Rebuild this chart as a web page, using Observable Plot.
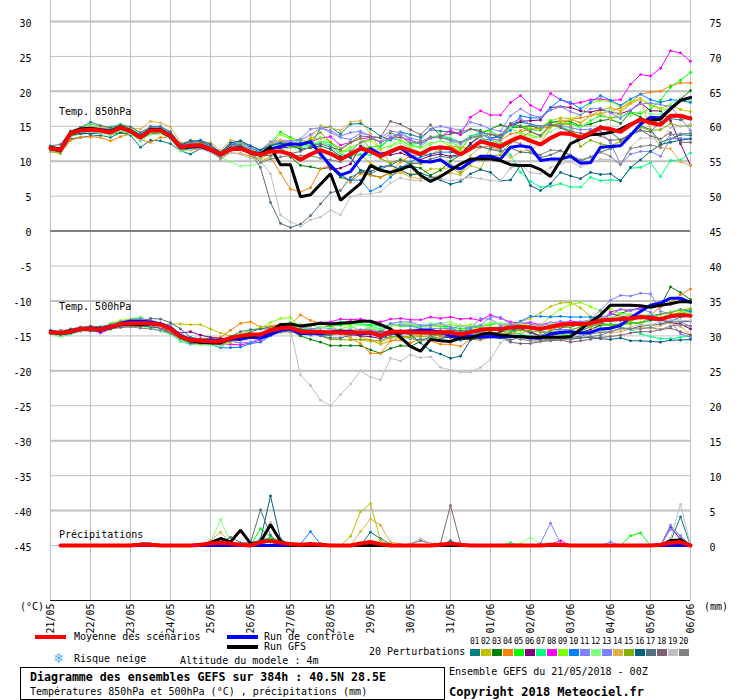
<!DOCTYPE html>
<html><head><meta charset="utf-8">
<script src="https://cdn.jsdelivr.net/npm/d3@7"></script>
<script src="https://cdn.jsdelivr.net/npm/@observablehq/plot@0.6"></script>
<style>
html,body{margin:0;padding:0;background:#fff;width:740px;height:700px;overflow:hidden}
#wrap{position:relative;width:740px;height:700px;font-family:"DejaVu Sans Mono",monospace;font-size:10px;color:#000}
#wrap svg{position:absolute;left:0;top:0;display:block}
.t{position:absolute;white-space:nowrap;line-height:12px;height:12px}
.s{position:absolute}
.b{font-weight:bold}
</style></head><body><div id="wrap"></div>
<script>
const dayLabels = ["21/05","22/05","23/05","24/05","25/05","26/05","27/05","28/05","29/05","30/05","31/05","01/06","02/06","03/06","04/06","05/06","06/06"];
const tempTicks = [30,25,20,15,10,5,0,-5,-10,-15,-20,-25,-30,-35,-40,-45];
const thickTicks = [30,20,10,-10,-20,-30,-40];
const perturbationColors = ["#008080","#c0c000","#008000","#ff8000","#00ff00","#800080","#00ff80","#ff00ff","#80ff00","#0080ff","#8080ff","#80ff80","#8080ff","#e0b040","#80b000","#006080","#507080","#806070","#c0c0c0","#808080"];
const perturbationIds = ["01","02","03","04","05","06","07","08","09","10","11","12","13","14","15","16","17","18","19","20"];

// Temperature at 850 hPa (deg C), one value every 6 h
const t850Mean = [11.9,11.6,14,14.4, 14.5,14.4,14.1,14.8, 14.3,13.4,14.4,14.4, 13.6,12,12.2,12.3, 11.7,11,11.7,11.8, 11.3,10.9,11.4,11.4, 11,10.2,11,11.6, 11.1,10.3,11,11.8, 11.4,10.7,11.4,12, 11.5,11,11.8,12, 11.8,11,11.8,12.8, 12.5,12.1,12.9,13.5, 12.9,12.4,13.3,14, 13.9,13.4,14,14.8, 14.6,14.2,15.2,16, 15.5,15.2,16.5,16.5, 16.1];
const t850Control = [11.8,11.5,13.9,14.5, 14.6,14.4,14.2,14.8, 14.2,13.5,14.5,14.4, 13.5,11.9,12,12.1, 11.6,10.9,11.8,11.9, 11.2,10.9,11.8,12.1, 12.5,12.4,12.8,11, 9.4,8,8.5,10.4, 11.8,11,11.3,11.9, 10.8,10,9.9,10.2, 9.2,8.9,9.9,10.7, 10.7,10.3,12,12.2, 12,10.1,10.3,10.3, 10.7,9.7,9.8,12, 12.1,12.2,13.7,15.3, 16.3,16.2,17.5,18.7, 19.1];
const t850Gfs = [12,11.7,14.1,14.6, 14.7,14.5,14.3,14.9, 14.4,13.5,14.5,14.5, 13.7,12,12.1,12.2, 11.6,11,11.8,11.9, 11.3,11,12,9.5, 9.5,4.9,5.2,6.7, 8.2,4.4,5.6,6.8, 9.4,8.7,8.4,8.8, 9.4,8,7.1,7.8, 8.7,9.6,10.3,10.3, 10.3,10.1,9.5,9.4, 9.4,8.8,7.8,10.1, 12.5,13.2,13.8,13.9, 14.1,14.6,15.3,15.8, 15.8,16,17.5,18.7, 19.1];
const t850P01 = [11.6,11.2,13.2,13.4, 13.6,13.7,13.4,14.1, 13.7,12,13,12.9, 12.5,11.5,11,11.8, 11.5,10.3,11.5,11.9, 11.4,11,12.2,12.8, 12.6,12.4,12.3,14.7, 14.9,13.9,15.3,15.4, 14.6,13.6,13,14.2, 13.8,13.4,14.5,14.3, 14.2,13.8,14.6,14.4, 13.3,13.7,14.9,15.6, 15.3,15,15.2,14.8, 14.1,13.5,14.4,15, 14.2,13,13.8,15.1, 14.5,12.7,13.2,13.8, 13.7];
const t850P02 = [11.5,11.4,13.9,14.3, 14.3,14.2,14.2,14.6, 14.1,13.2,14.2,14.3, 13.5,12,12.3,12.6, 12,10.9,12.4,12.5, 11.6,10.6,11.6,12.3, 12.2,13.1,12.6,11.8, 10.9,10.3,10.7,10.9, 9.7,8.9,8,8.4, 8.2,8.1,8.9,8.9, 9.1,8.2,9.4,8.9, 12,12.6,13,14.4, 15,14.9,15.8,16.2, 16.1,15.4,16.5,17.3, 17.7,17.2,18.3,18.9, 18,17.6,18.1,17.4, 17.1];
const t850P03 = [11.4,11.2,13.6,13.9, 14,14.2,13.8,14.1, 13.9,13.1,14,14, 13.3,11.6,11.7,12, 11.4,10.7,11.6,11.7, 11,10.7,11.8,11.9, 10.6,9.4,9.2,8.9, 9.1,7.7,7.2,8.7, 8,7.7,8.4,9.2, 9.3,9,8,8.7, 10,10.9,12.4,13.9, 14.6,15.2,14.8,14.9, 15.1,14.6,15.5,15.8, 15.7,15,15.3,15.8, 16,15.4,17,16.3, 15.6,16.3,17.5,18.9, 20.1];
const t850P04 = [11.5,11.1,13,13.4, 13.5,13.4,12.9,13.5, 13.9,13.1,12.7,13.4, 13.4,12.3,11.6,11.8, 11.4,10.3,11.2,11.1, 10.7,10,10.6,8.3, 6,5.6,6.2,8.9, 9.4,8.2,7,8.2, 8,7.7,8.4,9.9, 10.8,10.9,11,11.6, 12.2,12,11.8,12, 12.2,13,13.9,14.2, 14.6,14.7,14.9,15.3, 16,16.2,16.5,16.8, 17.2,17.6,18.4,19.6, 19.9,20,20.8,21.2, 21.2];
const t850P05 = [11.7,11.3,14.2,14.7, 15,14.7,14.6,15.1, 14.6,13.8,14.7,14.7, 14,12.4,12.5,12.7, 12,11.2,12.1,12.4, 11.8,11.5,12.6,14.2, 13.4,12.9,12,12.8, 12.7,11.4,11.5,11.8, 12,12.2,13.3,13.7, 12.4,12.6,13.3,13.8, 13,11.6,13.5,14.2, 14.4,13.3,14.8,15.1, 14.5,14.4,15.8,15.2, 15.4,14.9,15.8,16.5, 16.2,16.3,17,16.8, 17.5,18.7,20.6,21.6, 22.7];
const t850P06 = [11.6,11.3,13.8,14.2, 14.2,14.1,14,14.5, 14,13.2,14.1,14.2, 13.5,12,12.4,12.5, 12,11.1,11.9,12, 11.6,11.1,11.8,11.9, 12,12.2,12.7,11, 8.9,9,9.6,12.2, 11.6,10.9,10.9,11.2, 10.6,10.2,10.8,11, 10.7,11,12.6,13.5, 14,13.2,15.2,15.7, 15.8,15.9,17.7,17.8, 17.7,17.2,17,17.4, 17,16.8,17.3,18.4, 17.2,17.2,15.8,12.5, 9.4];
const t850P07 = [11.8,11.5,14.3,14.8, 15.3,15,14.9,15.3, 14.9,14,14.9,15, 14.1,12.4,12.4,12.6, 12,11.1,11.9,12.2, 11.6,11.2,12.2,12.5, 12.3,11.9,12.3,12.7, 12.3,11,10.8,11, 10.9,12,13.2,13, 12.3,12,13.4,13.6, 13.3,12.7,13.6,14, 13.1,12.4,10.9,8.4, 7.1,6.3,6.4,6.8, 6.3,6.3,7.7,7.2, 7.3,7.2,9,9.1, 9.8,7.8,10.1,10.2, 11.2];
const t850P08 = [11.7,11.4,14,14.5, 14.6,14.4,14.3,14.7, 14.3,13.4,14.3,14.3, 13.6,11.9,12.1,12.3, 11.9,10.9,11.6,11.8, 11.3,11.1,11.9,12.1, 12.5,12.6,12.8,13.3, 13.5,12.3,12.7,13.2, 13.4,12.7,13.3,13.4, 13,12.5,13.3,13.5, 14.4,13.8,16.3,17.2, 16.6,16.6,18.4,19.4, 18,17.3,19.7,18.8, 18.2,18.4,18.8,18.9, 18.7,18.8,21,22.4, 22.2,23.3,25.8,25.5, 24.3];
const t850P09 = [11.6,11.1,14,14.6, 14.8,14.6,14.4,15, 14.4,13.6,14.6,14.6, 13.9,12.2,12.2,12.3, 11.8,10.8,11.6,11.7, 11.2,10.9,12.4,13.8, 13.2,12.6,13,13.4, 12.8,11.3,12,12.6, 13,11.8,12.2,13, 12.2,11.9,12.6,12.9, 12.1,11.6,13.4,13.5, 12.6,13.1,14.7,14, 13.7,13.4,15,14.9, 16,16.6,18.3,18.7, 18.5,17.9,18.6,18.9, 18.2,17.4,17.5,18.7, 18.5];
const t850P10 = [11.6,11.4,13.7,14.1, 14.2,14.2,13.9,14.4, 14,13.1,14.9,14.9, 14.2,12.4,12.6,12.9, 12.1,11.4,12.4,12.7, 12,11.2,12.4,12.5, 12.4,12.6,12.9,11.4, 9.4,8,7.3,7.3, 5.7,6.4,7.7,9, 9.9,10.6,11,11.3, 11.3,11,12,13, 13.1,13.7,14.4,16.5, 16.2,16.2,17.7,18.8, 18.4,17.5,18.4,19.4, 18.7,18,18.9,19.6, 18.8,18.4,18.8,18.7, 18.4];
const t850P11 = [11.8,11.6,14.2,14.6, 14.9,14.7,14.6,15, 14.5,13.8,15,15, 14.1,12.4,12.5,12.7, 12,11.2,12.7,12.9, 12.2,11.6,12.8,13, 12.9,13,13.8,14.7, 14.4,13.6,14.1,14.3, 13.6,13.3,14.3,14.1, 13.3,13,14.6,15, 14.7,14.4,15.6,15.2, 14.6,14.3,16.5,17.5, 16.6,16.3,17.3,17.8, 17.1,16.6,17.5,17.6, 16.9,16.1,17.3,18.2, 18.3,18.1,17.8,16.2, 14.4];
const t850P12 = [11.5,11.1,13.5,14, 14.1,14,13.7,14.4, 13.9,12.8,13.8,13.9, 13.2,11.4,11.7,11.9, 11.4,10.6,9.9,9.3, 9.4,9.7,10.5,11.5, 12,11.5,12.6,12.8, 11.9,11,11.8,12.6, 11.3,10.8,12.1,12.6, 11.9,11.3,12.4,12.9, 12.6,12.2,13.2,13.6, 14,13.8,14.8,13.9, 13.3,13.5,14.2,15, 14.5,14.9,15.6,16.9, 17.3,16.5,16.5,17.1, 16.8,16.7,18.2,18.9, 18.8];
const t850P13 = [11.7,11.4,14,14.5, 14.6,14.6,14.3,14.8, 14.3,13.6,14.6,14.7, 13.9,12.3,12.6,12.8, 12.1,11.2,12.2,12.3, 11.9,11.5,12.5,12.7, 12.8,13.2,14.6,14.8, 14.1,13.4,13.1,14, 13.7,12.6,13.5,13.9, 13.1,12.4,13.3,13.5, 12.9,12.5,13.3,13.9, 13.2,13,15.4,16.1, 15.2,14.9,15.3,15.1, 14.8,14.5,14.6,14.3, 12.6,9.6,11,11.4, 11.4,10.7,13.2,13.3, 13.2];
const t850P14 = [11.4,11.1,14.3,14.9, 15,14.9,14.8,15.2, 14.8,14.6,15.7,15.5, 14.9,12.7,12.5,12.7, 12.7,11.5,13,12.7, 11.5,11,12.5,13, 12.6,12.4,13.4,15.1, 14.8,14.4,15.6,15.8, 13.9,11.6,9.7,8.4, 7.7,7.5,7.7,8, 8.3,8,10.8,12, 11.8,11.6,10.5,11.4, 11.6,12.5,14.8,15.8, 15.9,15.6,16.5,16.9, 16,16.9,18.2,18.9, 14.4,11.9,11.8,9.9, 9.4];
const t850P15 = [11.6,11.2,13.8,14.3, 14.4,14.3,14.1,14.7, 14.2,13.3,14.3,14.3, 13.6,11.8,12,12.2, 11.7,10.6,11.5,11.6, 11.1,10.2,11.5,12.5, 12.1,12,13.1,14.1, 12.7,11.8,12.6,13.3, 11.8,10.4,9.7,10.3, 9.8,9.6,10,10.1, 9.5,8.4,9.9,10.7, 10.8,10.9,12.6,13.3, 14.2,13.6,15.1,15.4, 15.2,12.1,13,12.5, 12.2,12.8,13.7,14.9, 14.4,14.5,15.4,15, 15.1];
const t850P16 = [11.9,11.6,13.7,14, 13.9,14.1,14.1,14.6, 14.1,13.3,14.5,14.6, 13.8,12.3,12.8,13, 12.4,11.2,12.6,12.9, 12.2,11.6,12.2,12.6, 12.3,11.7,11.9,12.2, 11.7,10.7,10.5,8.7, 8.5,9.2,9.4,8.8, 8,8.3,7.8,7.3, 6.7,7.1,8.2,8.8, 8.4,7.2,7.3,9.4, 6.5,5.8,6.8,8.4, 7.9,7.5,8.4,8.1, 8.2,7.2,9.1,10.2, 11.4,12.4,12.7,13, 13.2];
const t850P17 = [12.2,12.4,14.3,14.8, 15.6,15.1,14.8,15.2, 14.9,14.1,14.9,14.9, 14.2,12.4,13,12.8, 12.2,11.1,12.4,12.3, 11.2,9.1,4.1,1.1, 0.5,1,2.2,3.9, 5.5,5.8,7.7,8.4, 8.2,8.9,9.4,10.2, 9.6,9.8,10.3,10.7, 10.5,10.9,11.8,12.1, 11.7,11.4,11.9,11.3, 11.2,10.5,10.9,11.5, 10.8,10,10.6,11.3, 11.8,12.3,13.7,14.4, 14.2,15.6,16.1,15.9, 16.3];
const t850P18 = [11.6,11.5,13.9,14.3, 14.7,14.3,14.1,14.7, 14.2,13.2,14.2,14.2, 13.3,11.9,12.5,12.3, 11.6,10.8,12,12.2, 11.5,10.8,10.8,11.4, 11.1,11.4,12.1,12.5, 12,11.6,12.7,13.6, 13.5,13.4,15.7,15.3, 14.5,13.8,15.2,13.6, 13.9,14.2,14.6,14.2, 13.8,13.7,15.4,15, 14.2,13.7,15.2,14.9, 14.3,14,13.8,13.6, 13,13.1,13.9,14.5, 13.6,13.2,14.1,12.7, 12.7];
const t850P19 = [11.8,11.5,13.8,14.2, 14.2,14.1,13.9,14.5, 14,13.2,14.1,14.2, 13.5,11.7,11.9,11.9, 11.2,10.4,11.2,11, 10.4,10.1,8.2,2.3, 1.3,0.7,1.6,2, 3,2.3,4.9,5.3, 5.3,5.6,6.9,7.6, 7.3,7.2,7.4,7.5, 7.2,7.4,7.7,7.5, 7.2,7.2,9,9.5, 8.4,8.2,9.1,9.6, 9.9,9.2,9.7,10.3, 10.2,9.6,12,13.3, 13.3,12.9,14.8,15, 15.3];
const t850P20 = [11.7,11.4,13.9,14.4, 14.5,14.4,14.2,14.8, 14.4,13.4,14.4,14.4, 13.7,11.9,12.6,12.5, 11.6,10.5,11.8,12, 11.2,9.8,10.3,10.6, 10.8,10.8,10.8,10.4, 10.2,9.9,11.4,12.7, 13.2,12.8,14,13.6, 12.6,12.8,13.5,13.3, 13.1,12.7,13.4,13.6, 12,11.8,12.9,12.5, 11.2,10.9,11.6,11.5, 10.9,10.2,10.6,11.3, 10.7,9.5,11.8,12.1, 12.3,12,13.8,13.9, 14];

// Temperature at 500 hPa (deg C)
const t500Mean = [-14.5,-14.6,-14.4,-14, -14,-14.1,-13.7,-13.3, -13.2,-13.2,-13.2,-13.4, -14,-15.1,-15.6,-15.7, -15.8,-15.8,-15.3,-15, -14.8,-14.8,-14.2,-13.9, -13.8,-14.4,-14.4,-14.4, -14.5,-14.5,-14.5,-14.5, -14.5,-15,-14.4,-14.4, -14.5,-14.5,-14.5,-14.5, -14.5,-14.8,-14.5,-14.1, -14,-14,-13.8,-13.7, -13.8,-14,-13.7,-13.4, -13.3,-13.3,-13.2,-12.8, -12.7,-12.6,-12.5,-12.3, -12.4,-12.6,-12.2,-12, -12.1];
const t500Control = [-14.4,-14.7,-14.5,-14.1, -13.9,-14.2,-13.8,-13.2, -12.9,-12.9,-13,-13.3, -14,-15,-15.5,-15.8, -15.6,-15.7,-15.4,-15.5, -15.2,-15.3,-14.8,-14.2, -14,-14.7,-14.6,-14.7, -14.5,-14.3,-14.4,-14.7, -14.6,-15,-14.5,-14.6, -14.4,-14.2,-14.2,-14.5, -15,-15,-15,-15.2, -15.1,-15.2,-15.1,-15.1, -15.3,-15.3,-14.7,-14.5, -14.4,-14.6,-14.5,-14, -13.9,-13.5,-12.4,-11.5, -10.6,-10.3,-9.6,-9.6, -10.2];
const t500Gfs = [-14.4,-14.6,-14.3,-14, -13.9,-14,-13.7,-13.4, -13.3,-13.4,-13.3,-13.3, -13.9,-15,-15.7,-15.9, -16,-16,-15.4,-15.1, -15,-14.8,-14.3,-13.4, -13.3,-13.6,-13.4,-13.2, -13.3,-13.2,-13.1,-12.9, -12.9,-13.4,-14,-15.2, -16.5,-17.2,-15.5,-15.7, -15.8,-15.3,-15.3,-14.8, -14.6,-14.9,-15,-15.1, -15.2,-15.2,-15.2,-15.2, -15.1,-14.1,-13,-12, -10.6,-10.6,-10.6,-10.7, -10.9,-10.6,-10.4,-10.1, -10.1];
const t500P01 = [-14.3,-14.8,-14.5,-14.2, -13.9,-14.2,-13.9,-13.6, -13.5,-13.6,-13.5,-13.7, -14.1,-15,-15.9,-15.9, -16,-16,-15.6,-14.9, -14.4,-14,-13.7,-13.4, -13.2,-14.3,-14.7,-14.9, -14.9,-14.5,-14.1,-14.6, -14.3,-14.7,-14.2,-14.6, -14.2,-14.2,-14.2,-14.5, -14.4,-15.4,-15,-14.4, -14.1,-13.7,-14.3,-14.1, -14.6,-15,-14.2,-14, -14.5,-14.3,-13.7,-13.2, -13.4,-13.3,-13.1,-13.2, -12.7,-12.7,-12.9,-12.3, -12.2];
const t500P02 = [-14.4,-14.5,-14.2,-13.9, -13.9,-14,-13.5,-13.1, -13,-13,-13.1,-13.4, -13.3,-13.3,-13.4,-13.4, -14,-14.6,-15,-14.8, -14.7,-14.6,-13.9,-13.4, -13.6,-14.2,-14.5,-14.7, -14.6,-14.3,-14.5,-15.1, -15.6,-16.2,-15.7,-15.3, -15,-14.9,-14.5,-14.3, -14,-13.5,-13.6,-13.8, -14.2,-14,-13.3,-13, -12.5,-11.7,-10.8,-10.3, -10.2,-11,-12.2,-12.8, -12.6,-12.7,-12.9,-12.4, -12.5,-12.9,-11.8,-11.9, -11.7];
const t500P03 = [-14.6,-14.8,-14.6,-14.3, -14.2,-14.3,-14,-13.7, -13.6,-13.5,-13.6,-13.7, -14.4,-15.5,-16,-15.9, -15.8,-16,-15.6,-15.1, -15,-15,-14.4,-14.1, -14.2,-15,-15.5,-15.9, -16.4,-16.4,-16.4,-16.4, -17,-17.5,-16.8,-16.4, -16.5,-15.8,-15.1,-15.3, -15.2,-15.3,-15.2,-15.1, -14.8,-14.4,-14.2,-13.9, -13.8,-14,-13.6,-13.8, -13.7,-13.4,-12.7,-12.4, -12.6,-11.8,-11.3,-11, -10.8,-10.7,-8,-8.8, -9.8];
const t500P04 = [-14.3,-14.6,-14.4,-14.2, -14,-14.1,-13.7,-13.4, -13.2,-13.4,-13.4,-13.8, -14.3,-15.2,-15.5,-15.4, -15.3,-15.2,-14.2,-13.2, -13,-13.7,-13.6,-13.3, -13.4,-12,-12.8,-13.2, -13.6,-14.4,-15.3,-16.1, -17.5,-17.5,-15.7,-15.6, -16,-15.4,-15.7,-16.2, -16.2,-16.5,-15.5,-15.6, -15.2,-14.9,-14.6,-14.7, -14.1,-13.8,-14.1,-13.7, -13.4,-13.6,-13.4,-13.1, -12.7,-12.4,-12,-12.5, -12,-10.9,-10.2,-9.1, -8.3];
const t500P05 = [-14.5,-14.9,-14.6,-14.2, -14,-14.1,-13.4,-12.9, -12.6,-12.4,-12.9,-13.2, -13.7,-15,-15.7,-15.9, -16,-16.3,-15.8,-15.4, -15.1,-15,-14.4,-13.5, -13.1,-13.4,-14.2,-13.8, -13.6,-13.5,-13.3,-13.3, -13.4,-13.6,-13.4,-13.6, -13.6,-13.7,-13.5,-13.6, -13.7,-14,-13.9,-13.7, -13.4,-13.2,-13.4,-13.4, -13.8,-14.4,-14.6,-14.8, -14.7,-14.6,-14.1,-13.6, -13.3,-13.5,-13.1,-13.1, -12.8,-12.5,-12,-11.8, -11.4];
const t500P06 = [-14.6,-14.5,-14.3,-14, -14,-14.2,-13.8,-13.4, -13.1,-13.2,-13.2,-13.4, -14,-14.6,-14.4,-14.9, -15.2,-15.4,-15.3,-15.3, -15.2,-15.3,-14.7,-14.2, -14,-14.6,-14.4,-14.3, -14.6,-14.7,-14.8,-15, -15.1,-15.4,-14.8,-14.7, -14.7,-14.5,-14.6,-15, -15.2,-15.6,-15.2,-15.1, -14.7,-14.4,-13.7,-14, -14.4,-15,-15,-14.6, -14.4,-14.5,-14.1,-13.4, -11.8,-12.2,-12.4,-12.3, -12.7,-12.8,-13.1,-13.3, -14];
const t500P07 = [-14.7,-15.1,-14.8,-14.3, -14.1,-14.2,-13.9,-13.5, -13.4,-13.6,-13.8,-14.3, -14.7,-15.8,-16.2,-16.2, -16.3,-16.6,-15.8,-15.2, -15,-15.1,-14.6,-14, -13.8,-14.2,-13.6,-13.2, -13.2,-13,-13.2,-13.3, -13.6,-14,-13.3,-13.5, -13.6,-13.5,-13.4,-13.6, -14,-14.3,-14.1,-14, -13.8,-13.7,-14.3,-14.8, -15,-15.2,-14.7,-14.7, -14.3,-14.4,-14.4,-14.3, -13.9,-13.7,-14.1,-14.7, -15.1,-15.4,-15.4,-15.2, -15];
const t500P08 = [-14.4,-14.6,-14.4,-14, -14,-14.6,-14,-13.6, -13.3,-13.4,-13.5,-13.7, -14.2,-15.4,-16.1,-16.2, -16.1,-16.2,-16.2,-16.3, -16,-15.6,-14.9,-14.4, -14.2,-13.9,-13.5,-13.1, -13,-12.6,-12.7,-12.6, -12.9,-13,-12.6,-12.5, -12.7,-12.7,-12.3,-12.5, -12.3,-12.6,-12.5,-12.8, -12,-12.5,-13,-13.2, -13.1,-13.4,-13.1,-13.2, -12.9,-13,-13.2,-13, -11.6,-11.2,-11.4,-11, -10.7,-10.6,-10.5,-10, -10.2];
const t500P09 = [-14.5,-14.8,-14.3,-13.8, -13.7,-13.9,-13.2,-12.8, -12.6,-12.9,-13,-13.3, -14.1,-15.3,-15.9,-15.8, -15.8,-15.9,-15.1,-14.7, -14.2,-13.9,-13.1,-12.5, -12.4,-13.9,-14.3,-14.5, -14.1,-14,-13.6,-14.2, -13.8,-14.3,-13.6,-13.4, -13.4,-13.5,-13.6,-13.6, -13.4,-13.7,-13.4,-13.6, -13.1,-13.2,-13.5,-13.2, -13.6,-13.5,-12.2,-11.2, -10.5,-10.2,-10.8,-11.5, -11.2,-11.8,-11.9,-12.1, -12.2,-12.4,-12,-11.6, -11.2];
const t500P10 = [-14.3,-14.6,-14.3,-13.9, -13.8,-13.7,-13.4,-13.1, -13,-13.1,-13.3,-13.5, -14.2,-15.2,-15.8,-16, -16.2,-16.7,-16.7,-16.6, -16.1,-15.9,-15,-14.3, -14,-14.7,-14.9,-14.6, -14.6,-14.4,-14.3,-14.8, -14.5,-15.2,-15.3,-15, -15.4,-15.6,-15.2,-15.6, -14.6,-15.6,-15.4,-15.4, -14.7,-15,-14.5,-12.9, -12.2,-12.2,-12.3,-12.2, -12.3,-12.3,-12.3,-12.4, -12.9,-12.8,-12.5,-12.3, -12.1,-11.9,-11.6,-11.2, -11.5];
const t500P11 = [-14.5,-14.4,-14.1,-13.8, -13.7,-14,-13.6,-13, -12.7,-12.7,-12.9,-13.1, -13.5,-14.7,-15.3,-15.6, -15.7,-15.8,-15.8,-16, -15.9,-15.4,-14.9,-14.2, -14,-14.2,-14,-13.8, -14,-14.2,-14.2,-14.1, -14.1,-14.4,-13.3,-13.4, -13.6,-13.9,-13.9,-14, -13.9,-13.6,-13.9,-12.5, -12.6,-13.5,-13.4,-13.1, -13.3,-13.6,-13.2,-12.9, -13.1,-13,-12.7,-11.3, -9.9,-9.2,-9.3,-8.9, -9,-11.5,-11.8,-13, -13.6];
const t500P12 = [-14.6,-15,-14.8,-14.2, -14.1,-14.2,-14.1,-13.7, -13.6,-13.7,-13.8,-14.3, -14.8,-15.6,-16.1,-16.3, -16.3,-16.5,-15.9,-15.4, -15,-15.3,-14.8,-14.2, -13.8,-13.7,-13.5,-13.7, -14.2,-14.5,-13.8,-13.4, -14,-14.1,-13.6,-13.2, -13.2,-13.7,-13.2,-13.2, -13,-13.6,-13.6,-13.4, -13.2,-13.2,-13.3,-13.3, -14,-14.4,-13.2,-13.4, -13.2,-13.2,-12.8,-12.5, -12.4,-12.1,-11.9,-12.1, -11.8,-12.5,-11.5,-11.3, -11.9];
const t500P13 = [-14.3,-14.5,-14.1,-13.7, -13.9,-14,-13.5,-13, -12.9,-12.6,-12.7,-13.2, -13.6,-14.7,-15.6,-15.6, -15.9,-15.9,-15.4,-15.6, -15.1,-14.6,-14.1,-13.9, -13.9,-14.2,-14.4,-14.4, -14.3,-14.3,-14.2,-14.4, -14.2,-14.7,-13.2,-13, -13,-13.5,-13.5,-13.2, -13.7,-14.5,-13.8,-13.5, -12.3,-12.3,-13.3,-13.6, -14,-14.3,-14.7,-14.1, -14.1,-13.8,-13.3,-12.3, -12,-11.2,-11.3,-11.2, -11.6,-13.3,-12.9,-14.7, -15.2];
const t500P14 = [-14.6,-14.7,-14.5,-14.1, -14.1,-14.1,-13.7,-13.5, -13.4,-13.4,-13.4,-13.6, -14.3,-15.1,-15.4,-15.8, -16,-16.1,-15.9,-15.6, -15.3,-15,-14.4,-14.2, -14.4,-14.4,-14.4,-14.4, -14.5,-14.7,-15.4,-15.6, -15.8,-15.9,-15.3,-15.2, -15.3,-15.8,-15.4,-15.2, -14.7,-14.9,-15.3,-15.3, -14.5,-14.9,-13.9,-13.6, -13.9,-13.7,-13.7,-13.6, -13.6,-13.2,-13.8,-14.3, -14.6,-14.4,-14,-13.8, -13.9,-13.5,-13.1,-13.7, -14.8];
const t500P15 = [-14.5,-14.7,-14.5,-14, -14,-14,-13.6,-13.2, -13.2,-13.2,-13.3,-13.6, -14.1,-15.3,-16,-16, -16,-16,-15.6,-15.4, -15.2,-15,-14.5,-14.1, -14,-14.5,-14.6,-15, -15.5,-15.5,-15.6,-15.5, -15.6,-15.7,-15.1,-15, -15.2,-15.1,-15,-14.9, -14.4,-14.5,-14.2,-14.1, -14.4,-14.7,-14.5,-14.2, -14.3,-14.5,-14.4,-14.5, -14.2,-13.7,-13.6,-13.3, -13.6,-13.3,-13.3,-13.1, -12.4,-11.9,-11.7,-11.3, -11.1];
const t500P16 = [-14.6,-14.8,-14.6,-14.2, -14.3,-14.4,-14,-13.6, -13.5,-13.5,-13.7,-13.9, -14.6,-15.4,-16,-16, -15.8,-15.8,-15.2,-15, -14.9,-15,-14.7,-14, -13.9,-14.7,-14.7,-14.7, -14.6,-14.5,-14.5,-14.6, -14.6,-14.9,-14.6,-14.5, -14.8,-16,-17.1,-17.6, -18.2,-17.9,-15.6,-15.2, -15,-14.9,-15.1,-15.2, -15.2,-15.4,-15.2,-15.3, -15.5,-15.3,-15.2,-15.4, -15.5,-15.3,-15.7,-15.7, -15.8,-15.9,-15.6,-15.6, -15.5];
const t500P17 = [-14.2,-14.4,-14,-13.8, -13.6,-13.7,-13.5,-13.2, -13.1,-13,-12.5,-12.6, -13.1,-14,-15.2,-15.4, -15.4,-15.7,-15.1,-14.4, -14.1,-14,-14,-13.8, -13.7,-14,-14.3,-15, -15.3,-15.3,-14.9,-14.7, -14.6,-14.4,-14.5,-14.4, -14.7,-14.6,-14.8,-14.7, -14.6,-14.6,-14.6,-14.4, -14.6,-15.2,-15.6,-15.2, -15.3,-15.6,-15.5,-15.4, -15.3,-15,-14.7,-14.5, -14.4,-14,-14,-13.6, -13.5,-13.3,-13,-13, -12.9];
const t500P18 = [-14.5,-14.2,-14.2,-13.9, -13.6,-14.2,-14,-13.8, -13.7,-13.6,-13.6,-13.8, -14.5,-15.3,-15.9,-15.9, -16,-16,-15.7,-15.4, -15.1,-15.1,-14.8,-14.4, -14.2,-14.6,-14.5,-14.5, -14.6,-14.7,-14.6,-14.5, -14.5,-14.4,-14.3,-14.2, -14.1,-14,-14.2,-14.3, -14.2,-14.3,-14.2,-14.3, -14.7,-15.2,-15.9,-16.1, -16.1,-15.8,-15.7,-15.6, -15.9,-15.7,-15.5,-15.2, -15.1,-14.9,-14.6,-14.4, -14.4,-14.1,-13.9,-14.4, -14.9];
const t500P19 = [-14.5,-14.7,-14.4,-14, -14,-14.2,-13.8,-13.5, -13.5,-13.4,-13.5,-13.7, -14.2,-15.2,-15.7,-15.8, -15.9,-16,-15.5,-15, -14.8,-14.6,-14.4,-14.1, -14.1,-20.6,-22.1,-24.2, -25,-23.4,-21.9,-20, -20.9,-21.3,-18.2,-18.6, -17.7,-18.1,-18,-19.5, -19.9,-20.2,-20.2,-19.5, -18.4,-16,-14.9,-15.1, -15,-15.1,-15.1,-15, -14.9,-14.9,-14.6,-14.3, -14.3,-14.1,-13.7,-13.4, -13.4,-13,-12.7,-12.8, -12.8];
const t500P20 = [-14.5,-14.3,-14.3,-14, -14,-14,-13.8,-13.6, -13.7,-13.9,-14,-14.2, -14.6,-15.4,-15.9,-15.9, -15.9,-15.8,-15.4,-15.1, -15.1,-15,-14.9,-14.5, -14.4,-14.7,-14.8,-14.9, -14.8,-14.5,-14.6,-14.5, -14.6,-14.7,-14.6,-14.7, -14.4,-14.4,-14.5,-14.6, -14.4,-14.7,-14.3,-14.5, -15.2,-15.3,-15.2,-15.5, -15.7,-15.8,-15.5,-15.6, -15.4,-15.2,-15.1,-14.9, -14.4,-13.9,-14,-14, -13.8,-14.1,-13.6,-13.4, -13.6];

// Precipitation (mm): only the non-zero 6 h steps, as [step, mm]
const rainMean = [[9,.1],[10,.1],[15,.1],[16,.3],[17,.4],[18,.3],[19,.1],[21,.5],[22,.7],[23,.4],[24,.2],[25,.1],[26,.2],[27,.1],[31,.3],[32,.5],[33,.2],[39,.1],[40,.3],[41,.1],[50,.1],[51,.1],[61,.1],[62,.4],[63,.5]];
const rainControl = [];
const rainGfs = [[9,.2],[10,.2],[16,.4],[17,1],[18,.5],[19,2.2],[20,.3],[21,.5],[22,3],[23,.6],[62,.7],[63,.8]];
const rainP01 = [[21,.6],[22,1.2],[23,.3],[32,1.9],[33,1],[34,.2],[40,.7],[62,.6],[63,4.1]];
const rainP02 = [[30,1.3],[31,4.8],[32,6],[33,.7]];
const rainP03 = [[18,.2],[21,.4],[22,.8],[23,.3]];
const rainP04 = [[20,.2],[21,.4],[22,.8],[23,.4]];
const rainP05 = [[21,2.4],[22,1.2],[23,.6],[25,.2],[26,.3],[27,.3],[58,1.4],[59,1.8],[63,1]];
const rainP06 = [[21,.3],[22,.5],[62,2.7],[63,.8]];
const rainP07 = [[16,.3],[17,.5],[21,1],[22,.9],[23,.4],[46,.4]];
const rainP08 = [[21,.2],[50,.2],[51,.7]];
const rainP09 = [[25,.1],[26,.2]];
const rainP10 = [[18,.2],[25,.2],[26,2],[27,.2]];
const rainP11 = [[18,.1],[56,.5],[62,2.9],[63,1.3]];
const rainP12 = [[16,.5],[17,3.7],[18,.5],[47,.3],[48,1.1],[49,.3]];
const rainP13 = [[49,.3],[50,3.2],[51,.3],[62,2.3],[63,1.4]];
const rainP14 = [[16,.7],[17,1.9],[18,.4],[31,2],[32,3.8],[33,2.9],[34,.5],[35,.2]];
const rainP15 = [[21,.5],[22,.6]];
const rainP16 = [[21,.8],[22,7.1],[23,.9]];
const rainP17 = [[17,.3],[18,1.2],[19,.4],[20,.4],[21,5.1],[22,1.5]];
const rainP18 = [[36,.2],[37,.7],[38,.3],[39,.3],[40,5.7],[41,.3]];
const rainP19 = [[21,.6],[22,3.3],[23,.6],[36,.3],[37,1],[38,.3],[62,1],[63,5.9]];
const rainP20 = [[21,.4],[22,.5]];

const t850Perts = [t850P01,t850P02,t850P03,t850P04,t850P05,t850P06,t850P07,t850P08,t850P09,t850P10,t850P11,t850P12,t850P13,t850P14,t850P15,t850P16,t850P17,t850P18,t850P19,t850P20];
const t500Perts = [t500P01,t500P02,t500P03,t500P04,t500P05,t500P06,t500P07,t500P08,t500P09,t500P10,t500P11,t500P12,t500P13,t500P14,t500P15,t500P16,t500P17,t500P18,t500P19,t500P20];
const rainPerts = [rainP01,rainP02,rainP03,rainP04,rainP05,rainP06,rainP07,rainP08,rainP09,rainP10,rainP11,rainP12,rainP13,rainP14,rainP15,rainP16,rainP17,rainP18,rainP19,rainP20];

const tempRows = vals => vals.map((v,i) => ({i, v}));
// precipitation is plotted on the shared axis, 0 mm sitting at -45
const rainRows = pairs => {
  const m = new Map(pairs);
  return d3.range(1,65).map(i => ({i, v:(m.get(i)||0) - 45}));
};

const pertMarks = (rows, color) => [
  Plot.line(rows,{x:"i",y:"v",stroke:color,strokeWidth:1}),
  Plot.dot(rows,{x:"i",y:"v",fill:color,r:1.4,stroke:"none"})
];
const heavy = (rows, color, w) => Plot.line(rows,{x:"i",y:"v",stroke:color,strokeWidth:w,strokeLinejoin:"miter"});

const chart = Plot.plot({
  width:740, height:640,
  marginLeft:50, marginRight:50, marginTop:0, marginBottom:40,
  x:{domain:[0,64], axis:null},
  y:{domain:[-52.87,33.0], axis:null},
  style:{fontFamily:"'DejaVu Sans Mono',monospace",fontSize:"10px",background:"transparent",color:"#000"},
  marks:[
    Plot.ruleX(d3.range(0,65,4),{stroke:"#c0c0c0",strokeWidth:1,strokeOpacity:1}),
    Plot.ruleY(tempTicks,{stroke:"#c0c0c0",strokeWidth:1,strokeOpacity:1}),
    Plot.ruleY(thickTicks,{stroke:"#c0c0c0",strokeWidth:2,strokeOpacity:1}),
    Plot.ruleY([0],{stroke:"#808080",strokeWidth:2}),
    Plot.ruleY([-52.87],{stroke:"#000",strokeWidth:1}),
    ...t850Perts.flatMap((s,k)=>pertMarks(tempRows(s),perturbationColors[k])),
    ...t500Perts.flatMap((s,k)=>pertMarks(tempRows(s),perturbationColors[k])),
    ...rainPerts.flatMap((s,k)=>pertMarks(rainRows(s),perturbationColors[k])),
    heavy(tempRows(t850Control),"#0000ff",3),
    heavy(tempRows(t500Control),"#0000ff",3),
    heavy(rainRows(rainControl),"#0000ff",3),
    heavy(tempRows(t850Gfs),"#000",3),
    heavy(tempRows(t500Gfs),"#000",3),
    heavy(rainRows(rainGfs),"#000",3),
    heavy(tempRows(t850Mean),"#ff0000",4),
    heavy(tempRows(t500Mean),"#ff0000",4),
    heavy(rainRows(rainMean),"#ff0000",4),
    Plot.axisY({anchor:"left",ticks:tempTicks,tickSize:0,tickPadding:19,dy:2,label:null,tickFormat:d=>String(d)}),
    Plot.axisY({anchor:"right",ticks:tempTicks,tickSize:0,tickPadding:19,dy:2,label:null,tickFormat:d=>String(d+45)}),
    Plot.axisX({anchor:"bottom",ticks:d3.range(0,65,4),tickSize:0,tickPadding:3,tickRotate:-90,label:null,tickFormat:d=>dayLabels[d/4]})
  ]
});

const wrap = document.getElementById("wrap");
wrap.appendChild(chart);

const addText = (txt,x,cy,cls,extra) => {
  const e = document.createElement("div");
  e.className = "t "+(cls||"");
  e.textContent = txt;
  e.style.left = x+"px"; e.style.top = (cy-6)+"px";
  if (extra) Object.assign(e.style,extra);
  wrap.appendChild(e);
};
const addBox = (x,y,w,h,color) => {
  const e = document.createElement("div");
  e.className = "s";
  Object.assign(e.style,{left:x+"px",top:y+"px",width:w+"px",height:h+"px",background:color});
  wrap.appendChild(e);
};

addText("Temp. 850hPa",59,112);
addText("Temp. 500hPa",59,307);
addText("Précipitations",59,535);
addText("(°C)",20,607);
addText("(mm)",704,607);

addBox(35,635,31,4,"#ff0000");
addText("Moyenne des scénarios",74,637);
addBox(227,635,31,4,"#0000ff");
addText("Run de contrôle",264,637);
addBox(227,645,31,4,"#000");
addText("Run GFS",264,647);
addText("20 Perturbations",369,652);
perturbationIds.forEach((id,k)=>{
  addText(id,470+k*11,642,"",{fontSize:"8px",letterSpacing:"-0.3px"});
  addBox(470+k*11,649,10,7,perturbationColors[k]);
});
addText("❄",54,658,"",{fontSize:"15px",color:"#55aaee"});
addText("Risque neige",74,659);
addText("Altitude du modele : 4m",180,661);

const box = document.createElement("div");
box.className="s";
Object.assign(box.style,{left:"20px",top:"667px",width:"423px",height:"31px",border:"1px solid #000"});
wrap.appendChild(box);
addText("Diagramme des ensembles GEFS sur 384h : 40.5N 28.5E",30,677,"b",{fontSize:"11.6px"});
addText("Températures 850hPa et 500hPa (°C) , précipitations (mm)",30,692);
addText("Ensemble GEFS du 21/05/2018 - 00Z",449,672);
addText("Copyright 2018 Meteociel.fr",449,692,"b",{fontSize:"12px"});
</script></body></html>
